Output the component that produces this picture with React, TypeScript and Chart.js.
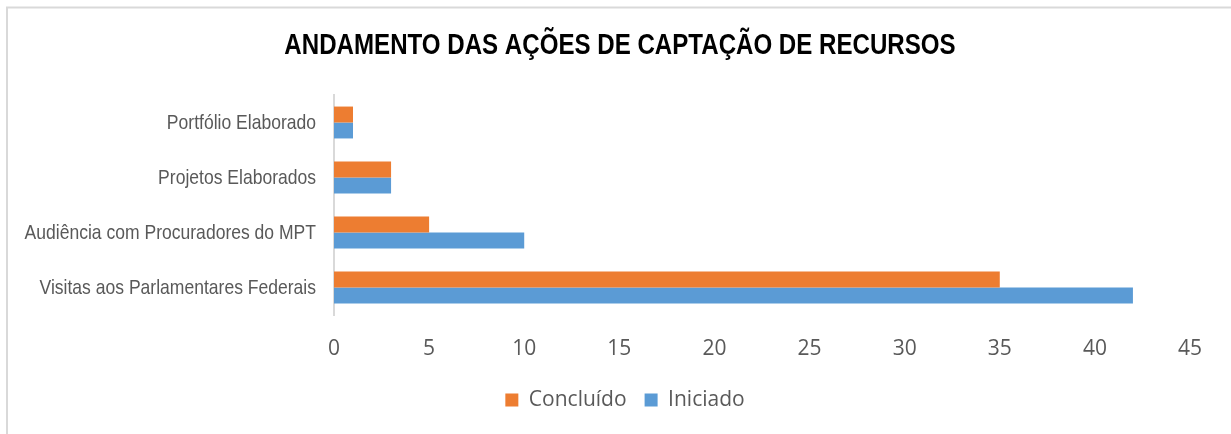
import React, { useEffect, useRef } from "react";
import { Chart, registerables } from "chart.js";

Chart.register(...registerables);

const TITLE = "ANDAMENTO DAS AÇÕES DE CAPTAÇÃO DE RECURSOS";
const categories = [
  "Portfólio Elaborado",
  "Projetos Elaborados",
  "Audiência com Procuradores do MPT",
  "Visitas aos Parlamentares Federais",
];
const seriesNames = ["Concluído", "Iniciado"];
const concluido = [1, 3, 5, 35];
const iniciado = [1, 3, 10, 42];
const xMin = 0;
const xMax = 45;
const xStep = 5;

const ARIAL = '"Liberation Sans", Arial, sans-serif';
const SANS = '"Open Sans", "Noto Sans", sans-serif';

const frame = {
  id: "frame",
  beforeDraw(chart: any) {
    const { ctx, width, height } = chart;
    ctx.save();
    ctx.fillStyle = "#ffffff";
    ctx.fillRect(0, 0, width, height);
    ctx.strokeStyle = "#d9d9d9";
    ctx.lineWidth = 2;
    ctx.beginPath();
    ctx.moveTo(7, height);
    ctx.lineTo(7, 7.5);
    ctx.lineTo(width, 7.5);
    ctx.stroke();
    ctx.restore();
  },
};

// Title and category labels drawn in a condensed (Arial Narrow-like) style
const narrowText = {
  id: "narrowText",
  afterDraw(chart: any) {
    const { ctx } = chart;
    const yScale = chart.scales.y;
    ctx.save();
    ctx.fillStyle = "#000000";
    ctx.font = `bold 29px ${ARIAL}`;
    ctx.textAlign = "center";
    ctx.textBaseline = "middle";
    ctx.translate(620, 46);
    ctx.scale(0.831, 1);
    ctx.fillText(TITLE, 0, 0);
    ctx.restore();

    ctx.save();
    ctx.fillStyle = "#595959";
    ctx.font = `21px ${ARIAL}`;
    ctx.textAlign = "right";
    ctx.textBaseline = "middle";
    const right = yScale.right - 18;
    categories.forEach((label, i) => {
      const y = yScale.getPixelForValue(i);
      ctx.save();
      ctx.translate(right, y + 1);
      ctx.scale(0.835, 1);
      ctx.fillText(label, 0, 0);
      ctx.restore();
    });
    ctx.restore();
  },
};

export default function App() {
  const ref = useRef<HTMLCanvasElement>(null);
  useEffect(() => {
    if (!ref.current) return;
    const chart = new Chart(ref.current, {
      type: "bar",
      data: {
        labels: categories,
        datasets: [
          {
            label: seriesNames[0],
            data: concluido,
            backgroundColor: "#ED7D31",
            barPercentage: 1,
            categoryPercentage: 0.58,
            xAxisID: "x",
            yAxisID: "y",
          },
          {
            label: seriesNames[1],
            data: iniciado,
            backgroundColor: "#5B9BD5",
            barPercentage: 1,
            categoryPercentage: 0.58,
            xAxisID: "x",
            yAxisID: "y",
          },
        ],
      },
      options: {
        indexAxis: "y",
        responsive: false,
        animation: false,
        layout: { padding: { top: 95, left: 19, right: 0, bottom: 13.5 } },
        scales: {
          x: {
            min: xMin,
            max: xMax,
            ticks: {
              stepSize: xStep,
              color: "#595959",
              font: { family: SANS, size: 21 },
              padding: 21,
            },
            grid: { display: false, drawTicks: false },
            border: { display: false },
            afterFit: (s: any) => {
              s.height = 56.5;
            },
          },
          y: {
            ticks: { display: false },
            grid: { display: false, drawTicks: false },
            border: { display: true, color: "#d9d9d9", width: 2 },
            afterFit: (s: any) => {
              s.width = 315;
            },
          },
          yRight: {
            type: "linear",
            position: "right",
            ticks: { display: false },
            grid: { display: false, drawTicks: false },
            border: { display: false },
            afterFit: (s: any) => {
              s.width = 41;
            },
          },
        },
        plugins: {
          title: { display: false },
          legend: {
            position: "bottom",
            labels: {
              color: "#595959",
              font: { family: SANS, size: 21 },
              boxWidth: 13,
              boxHeight: 13,
              padding: 18,
            },
          },
          tooltip: { enabled: false },
        },
      },
      plugins: [frame, narrowText],
    });
    return () => chart.destroy();
  }, []);
  return (
    <div style={{ position: "absolute", left: 0, top: 0, width: 1231, height: 434 }}>
      <canvas ref={ref} width={1231} height={434} style={{ display: "block" }} />
    </div>
  );
}
